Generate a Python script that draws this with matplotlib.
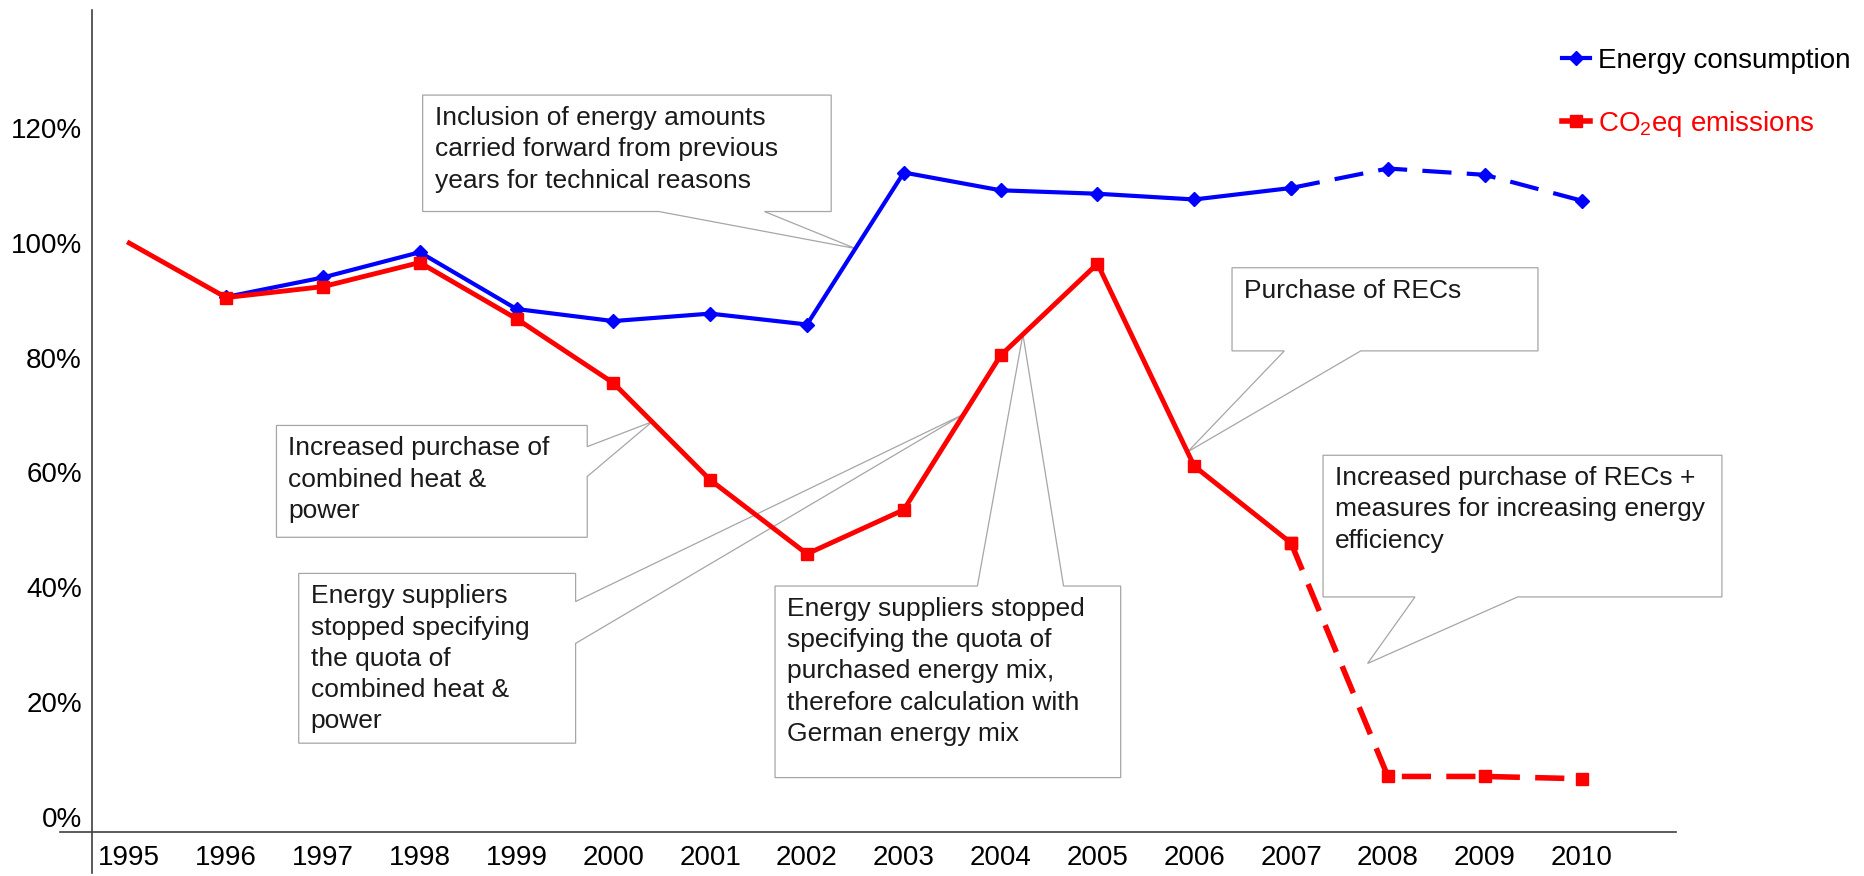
import numpy as np
import matplotlib
matplotlib.use("Agg")
import matplotlib.pyplot as plt
from matplotlib.patches import Polygon
from matplotlib.lines import Line2D
import matplotlib.transforms as mtransforms

# data (percent of 1995 level)
years = np.arange(1995, 2011)
energy = np.array([np.nan, 90.6, 94.0, 98.4, 88.5, 86.4, 87.7, 85.8,
                   112.3, 109.2, 108.6, 107.6, 109.6, 113.0, 111.9, 107.4])
co2 = np.array([100.0, 90.5, 92.4, 96.6, 86.8, 75.6, 58.7, 45.8,
                53.5, 80.4, 96.4, 61.1, 47.7, 7.0, 7.0, 6.6])
year_labels = [str(y) for y in years]
y_ticks = [0, 20, 40, 60, 80, 100, 120]
y_tick_labels = [f"{v}%" for v in y_ticks]
last_actual = 2007

series_names = ["Energy consumption", "CO$_\\mathregular{2}$eq emissions"]

# callout boxes: text, box (x0, x1, y0, y1), side of the pointer, pointer base, tip
callouts = [
    dict(text="Inclusion of energy amounts\ncarried forward from previous\nyears for technical reasons",
         box=(1998.03, 2002.25, 105.5, 125.8), side="bottom", base=(2000.47, 2001.56),
         tip_x=2002.5, series="energy"),
    dict(text="Increased purchase of\ncombined heat &\npower",
         box=(1996.52, 1999.73, 48.7, 68.2), side="right", base=(64.5, 59.3),
         tip_x=2000.4, series="co2"),
    dict(text="Energy suppliers\nstopped specifying\nthe quota of\ncombined heat &\npower",
         box=(1996.75, 1999.61, 12.8, 42.4), side="right", base=(37.5, 30.2),
         tip_x=2003.62, series="co2"),
    dict(text="Energy suppliers stopped\nspecifying the quota of\npurchased energy mix,\ntherefore calculation with\nGerman energy mix",
         box=(2001.67, 2005.24, 6.8, 40.2), side="top", base=(2003.76, 2004.65),
         tip_x=2004.23, series="co2"),
    dict(text="Purchase of RECs",
         box=(2006.39, 2009.55, 81.2, 95.7), side="bottom", base=(2006.93, 2007.72),
         tip_x=2005.93, series="co2"),
    dict(text="Increased purchase of RECs +\nmeasures for increasing energy\nefficiency",
         box=(2007.33, 2011.45, 38.3, 63.0), side="bottom", base=(2008.28, 2009.34),
         tip_x=2007.79, tip_y=26.7),
]

regular = ["Liberation Sans", "DejaVu Sans"]
plt.rcParams["font.family"] = regular
plt.rcParams["mathtext.fontset"] = "custom"
plt.rcParams["mathtext.rm"] = "Liberation Sans"
plt.rcParams["lines.scale_dashes"] = False

blue = "#0000ff"
red = "#ff0000"
grey_box = "#a6a6a6"
axis_col = "#404040"

fig = plt.figure(figsize=(18.64, 8.76), dpi=100)
ax = fig.add_axes([0.0491, 0.0502, 0.85, 0.9388])
ax.set_xlim(1994.61, 2010.975)
ax.set_ylim(-2.69, 140.7)

solid = years <= last_actual
dashed = years >= last_actual
dash = (0, (21, 11))

ax.plot(years[solid], energy[solid], color=blue, lw=3, marker="D", ms=7, zorder=3)
ax.plot(years[dashed], energy[dashed], color=blue, lw=3, ls=dash, marker="D", ms=7, zorder=3)
ax.plot(years[solid], co2[solid], color=red, lw=3.5, marker="s", ms=9,
        markevery=list(range(1, solid.sum())), zorder=4)
ax.plot(years[dashed], co2[dashed], color=red, lw=4, ls=dash, marker="s", ms=9, zorder=4)

# callouts
lookup = {"energy": energy, "co2": co2}
text_off = mtransforms.offset_copy(ax.transData, fig=fig, x=12, y=-11, units="dots")
for c in callouts:
    x0, x1, y0, y1 = c["box"]
    if "series" in c:
        s = lookup[c["series"]]
        ok = ~np.isnan(s)
        tip = (c["tip_x"], np.interp(c["tip_x"], years[ok], s[ok]))
    else:
        tip = (c["tip_x"], c["tip_y"])
    a, b = c["base"]
    if c["side"] == "bottom":
        pts = [(x0, y1), (x1, y1), (x1, y0), (b, y0), tip, (a, y0), (x0, y0)]
    elif c["side"] == "top":
        pts = [(x0, y1), (a, y1), tip, (b, y1), (x1, y1), (x1, y0), (x0, y0)]
    else:
        pts = [(x0, y1), (x1, y1), (x1, a), tip, (x1, b), (x1, y0), (x0, y0)]
    ax.add_patch(Polygon(pts, closed=True, fc="white", ec=grey_box, lw=0.9,
                         zorder=1, clip_on=False))
    ax.text(x0, y1, c["text"], transform=text_off, ha="left", va="top",
            fontsize=19, color="#1a1a1a", linespacing=1.38,
            zorder=1.5, clip_on=False)

# axes lines
for sp in ax.spines.values():
    sp.set_visible(False)
ax.add_line(Line2D([0, 0], [-0.05, 1], transform=ax.transAxes, color=axis_col,
                   lw=1.2, clip_on=False))
ax.add_line(Line2D([-0.02, 1], [0, 0], transform=ax.transAxes, color=axis_col,
                   lw=1.2, clip_on=False))

ax.set_xticks(years)
ax.set_xticklabels(year_labels, fontsize=20)
ax.set_yticks(y_ticks)
ax.set_yticklabels(y_tick_labels, fontsize=20)
ax.tick_params(axis="both", length=0, colors="black")
ax.tick_params(axis="x", pad=9)
ax.tick_params(axis="y", pad=7)

handles = [
    Line2D([], [], color=blue, lw=3, marker="D", ms=7),
    Line2D([], [], color=red, lw=4, marker="s", ms=9),
]
leg = fig.legend(handles, series_names, loc="upper left", bbox_to_anchor=(0.838, 0.945),
                 frameon=False, fontsize=20, handlelength=1.0, handletextpad=0.3,
                 labelspacing=1.25, borderpad=0, borderaxespad=0)
leg.get_texts()[1].set_color(red)

fig.savefig("out.png", dpi=100, facecolor="white")
